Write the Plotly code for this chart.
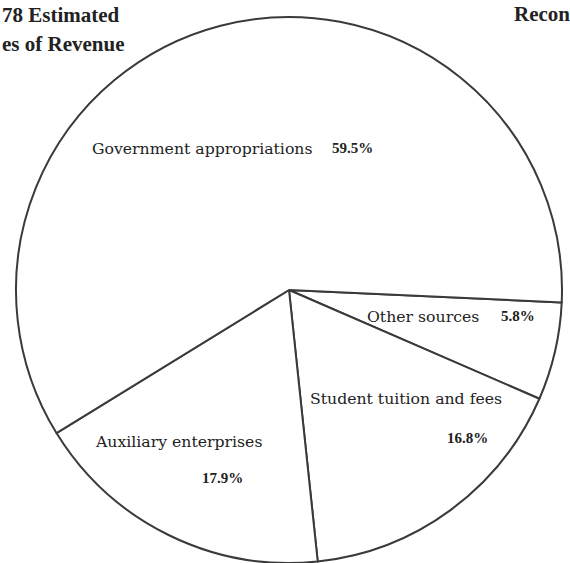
import plotly.graph_objects as go

# Data
labels = ["Other sources", "Student tuition and fees", "Auxiliary enterprises", "Government appropriations"]
values = [5.8, 16.8, 17.9, 59.5]
pct_text = ["5.8%", "16.8%", "17.9%", "59.5%"]

W, H = 570, 563
cx, cy, r = 289, 290, 273  # pixel geometry of the pie

fig = go.Figure()
fig.add_trace(go.Pie(
    labels=labels,
    values=values,
    sort=False,
    direction="clockwise",
    rotation=92.6,
    textinfo="none",
    hoverinfo="label+percent",
    marker=dict(colors=["white"] * 4, line=dict(color="#3a3a3a", width=2)),
    showlegend=False,
    domain=dict(x=[(cx - r) / W, (cx + r) / W], y=[(H - cy - r) / H, (H - cy + r) / H]),
))

def px(x, y):
    return x / W, 1 - y / H

lab_font = dict(family="DejaVu Serif", size=15.7, color="#222")
pct_font = dict(family="Liberation Serif", size=15, color="#222")
title_font = dict(family="Liberation Serif", size=21, color="#222")

# label positions (left x, center y) in pixels
label_pos = {
    "Government appropriations": (90, 148),
    "Other sources": (365, 316),
    "Student tuition and fees": (308, 398),
    "Auxiliary enterprises": (93, 441),
}
pct_pos = {
    "59.5%": (330, 148),
    "5.8%": (499, 316),
    "16.8%": (445, 438),
    "17.9%": (200, 478),
}

anns = []
for name in labels:
    x, y = px(*label_pos[name])
    anns.append(dict(text=name, x=x, y=y, xref="paper", yref="paper", xanchor="left",
                     yanchor="middle", showarrow=False, font=lab_font))
for t in pct_text:
    x, y = px(*pct_pos[t])
    anns.append(dict(text="<b>" + t + "</b>", x=x, y=y, xref="paper", yref="paper", xanchor="left",
                     yanchor="middle", showarrow=False, font=pct_font))

titles = [("<b>78 Estimated</b>", 0, 15), ("<b>es of Revenue</b>", 0, 44), ("<b>Recon</b>", 512, 14)]
for t, x0, y0 in titles:
    x, y = px(x0, y0)
    anns.append(dict(text=t, x=x, y=y, xref="paper", yref="paper", xanchor="left",
                     yanchor="middle", showarrow=False, font=title_font))

fig.update_layout(
    width=W, height=H,
    margin=dict(l=0, r=0, t=0, b=0),
    paper_bgcolor="white", plot_bgcolor="white",
    annotations=anns,
)

fig.write_html("out.html")
